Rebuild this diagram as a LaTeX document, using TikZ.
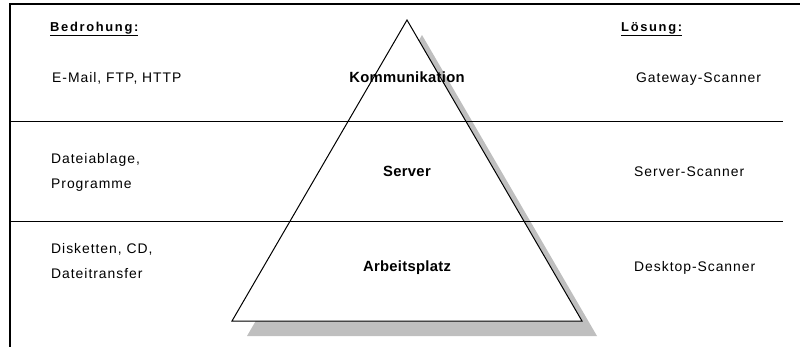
\documentclass[tikz,border=0pt]{standalone}
\usepackage{fontspec}
\setmainfont{Liberation Sans}
\newfontfamily\bodyfont{Liberation Sans}[LetterSpace=7]
\newfontfamily\headfont{Liberation Sans}[LetterSpace=13]
\newfontfamily\levelfont{Liberation Sans}[LetterSpace=2]
\begin{document}
\begin{tikzpicture}[x=1pt,y=-1pt,
  body/.style={font=\bodyfont\fontsize{13.9}{25}\selectfont, inner sep=0pt, anchor=base west, align=left},
  head/.style={font=\headfont\bfseries\fontsize{12.9}{14}\selectfont, inner sep=0pt, anchor=base west},
  level/.style={font=\levelfont\bfseries\fontsize{14.8}{18}\selectfont, inner sep=0pt, anchor=base},
  frame/.style={line width=2pt},
  divider/.style={line width=1pt},
  shadow/.style={fill=black!25, draw=none},
  pyramid/.style={fill=white, draw=black, line width=1pt, line join=miter},
]
\useasboundingbox (0,0) rectangle (800,346);

% frame on the top and left
\coordinate (tl) at (10,4);
\coordinate (tr) at (801,4);
\coordinate (bl) at (10,347);
\draw[frame] (tr) -- (tl) -- (bl);

% pyramid with its drop shadow
\coordinate (apex) at (407,20);
\coordinate (baseL) at (232,321);
\coordinate (baseR) at (582,321);
\fill[shadow] ([shift={(15,15)}]apex) -- ([shift={(15,15)}]baseL) -- ([shift={(15,15)}]baseR) -- cycle;
\filldraw[pyramid] (apex) -- (baseL) -- (baseR) -- cycle;

% dividers between the three levels
\coordinate (d1L) at (10,121);
\coordinate (d1R) at (783,121);
\coordinate (d2L) at (10,221);
\coordinate (d2R) at (783,221);
\draw[divider] (d1L) -- (d1R);
\draw[divider] (d2L) -- (d2R);

% column headings
\node[head] (threat) at (50,31) {\underline{Bedrohung:}};
\node[head] (solution) at (621,31) {\underline{Lösung:}};

% threats (multi-line nodes sit on the baseline of their last line)
\node[body] (t1) at (52,82) {E-Mail, FTP, HTTP};
\node[body] (t2) at (51,188) {Dateiablage,\\Programme};
\node[body] (t3) at (51,278) {Disketten, CD,\\Dateitransfer};

% pyramid levels
\node[level] (l1) at (407,82) {Kommunikation};
\node[level] (l2) at (407,176) {Server};
\node[level] (l3) at (407,271) {Arbeitsplatz};

% solutions
\node[body] (s1) at (636,82) {Gateway-Scanner};
\node[body] (s2) at (634,176) {Server-Scanner};
\node[body] (s3) at (634,271) {Desktop-Scanner};
\end{tikzpicture}
\end{document}
